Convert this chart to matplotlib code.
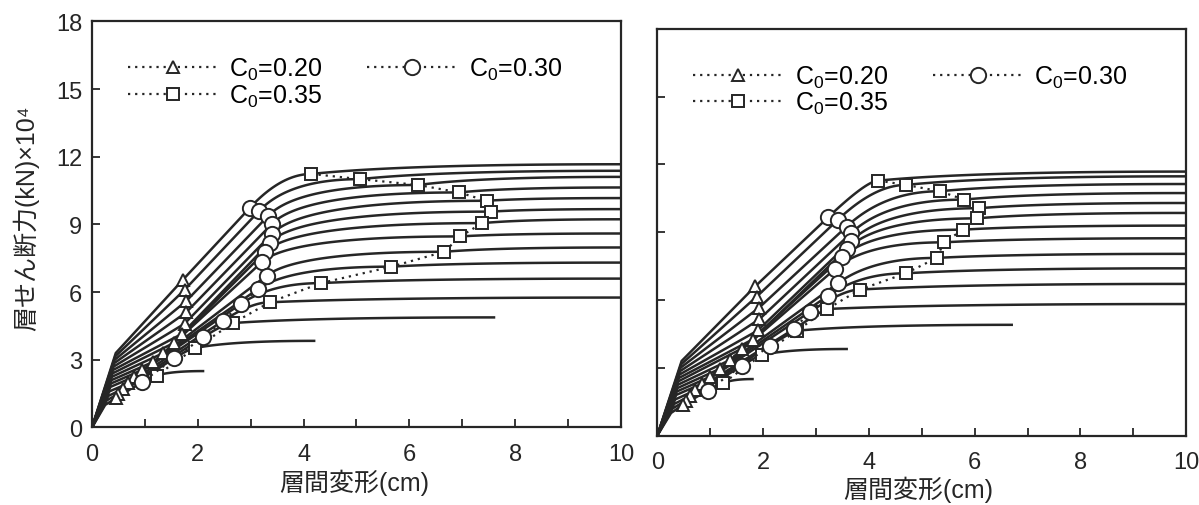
import numpy as np
import matplotlib
matplotlib.use('Agg')
import matplotlib.pyplot as plt

plt.rcParams['font.family'] = ['Liberation Sans', 'Noto Sans CJK JP', 'DejaVu Sans']
plt.rcParams['mathtext.fontset'] = 'custom'
plt.rcParams['mathtext.rm'] = 'Liberation Sans'
plt.rcParams['mathtext.it'] = 'Liberation Sans:italic'
plt.rcParams['mathtext.bf'] = 'Liberation Sans:bold'

# ---------------- data (stories ordered from largest to smallest shear) ----------------
# Left panel
L_plateau = [11.67, 11.38, 11.11, 10.64, 10.17, 9.68, 9.23, 8.60, 7.98, 7.31, 6.60, 5.76, 4.88, 3.84, 2.50]
L_end_x = [10, 10, 10, 10, 10, 10, 10, 10, 10, 10, 10, 10, 7.6, 4.2, 2.1]
L_elastic_x = [0.45, 0.44, 0.43, 0.42, 0.41, 0.40, 0.39, 0.38, 0.37, 0.36, 0.35, 0.33, 0.31, 0.28, 0.25]
L_elastic_y = [3.3, 3.15, 3.0, 2.85, 2.7, 2.55, 2.4, 2.25, 2.1, 1.95, 1.8, 1.6, 1.4, 1.2, 1.0]
L_tri_x = [1.72, 1.75, 1.78, 1.78, 1.75, 1.70, 1.55, 1.35, 1.15, 0.95, 0.80, 0.68, 0.58, 0.50, 0.45]
L_tri_y = [6.55, 6.10, 5.60, 5.10, 4.60, 4.15, 3.75, 3.30, 2.90, 2.55, 2.25, 1.95, 1.70, 1.50, 1.30]
L_cir_x = [2.99, 3.16, 3.33, 3.40, 3.40, 3.36, 3.27, 3.21, 3.30, 3.14, 2.81, 2.48, 2.10, 1.56, 0.94]
L_cir_y = [9.75, 9.60, 9.38, 9.02, 8.58, 8.20, 7.78, 7.33, 6.73, 6.14, 5.47, 4.73, 4.00, 3.07, 2.00]
L_sq_x = [4.15, 5.07, 6.17, 6.94, 7.46, 7.55, 7.38, 6.96, 6.66, 5.66, 4.33, 3.36, 2.67, 1.95, 1.22]
L_sq_y = [11.24, 11.01, 10.75, 10.42, 10.05, 9.57, 9.06, 8.47, 7.79, 7.13, 6.40, 5.55, 4.63, 3.52, 2.30]

# Right panel
R_plateau = [11.68, 11.47, 11.13, 10.73, 10.29, 9.85, 9.29, 8.73, 8.04, 7.40, 6.71, 5.82, 4.90, 3.83, 2.50]
R_end_x = [10, 10, 10, 10, 10, 10, 10, 10, 10, 10, 10, 10, 6.7, 3.58, 1.8]
R_elastic_x = [0.46, 0.45, 0.44, 0.43, 0.42, 0.41, 0.40, 0.39, 0.38, 0.37, 0.36, 0.34, 0.32, 0.29, 0.26]
R_elastic_y = [3.3, 3.15, 3.0, 2.85, 2.7, 2.55, 2.4, 2.25, 2.1, 1.95, 1.8, 1.6, 1.4, 1.2, 1.0]
R_tri_x = [1.85, 1.88, 1.92, 1.93, 1.90, 1.80, 1.60, 1.38, 1.18, 1.00, 0.85, 0.72, 0.62, 0.54, 0.48]
R_tri_y = [6.60, 6.15, 5.65, 5.15, 4.65, 4.25, 3.85, 3.35, 2.95, 2.60, 2.30, 2.00, 1.75, 1.55, 1.35]
R_cir_x = [3.23, 3.41, 3.58, 3.66, 3.67, 3.58, 3.49, 3.36, 3.42, 3.23, 2.89, 2.58, 2.13, 1.60, 0.95]
R_cir_y = [9.66, 9.54, 9.25, 8.95, 8.62, 8.25, 7.89, 7.37, 6.75, 6.19, 5.48, 4.71, 3.98, 3.09, 1.99]
R_sq_x = [4.18, 4.70, 5.34, 5.80, 6.09, 6.04, 5.78, 5.42, 5.28, 4.70, 3.83, 3.21, 2.64, 1.97, 1.24]
R_sq_y = [11.28, 11.09, 10.81, 10.44, 10.06, 9.61, 9.11, 8.55, 7.86, 7.18, 6.46, 5.60, 4.64, 3.56, 2.31]

x_ticks = [0, 2, 4, 6, 8, 10]
y_ticks = [0, 3, 6, 9, 12, 15, 18]
labels = ['C$_0$=0.20', 'C$_0$=0.30', 'C$_0$=0.35']
xlabel = '層間変形(cm)'
ylabel = '層せん断力(kN)×10⁴'

INK = '#262626'


def bezier(p0, p1, p2, n=50):
    t = np.linspace(0, 1, n)
    x = (1 - t) ** 2 * p0[0] + 2 * (1 - t) * t * p1[0] + t ** 2 * p2[0]
    y = (1 - t) ** 2 * p0[1] + 2 * (1 - t) * t * p1[1] + t ** 2 * p2[1]
    return x, y


def story_curve(ex, ey, tx, ty, cx, cy, sx, sy, xe, ye):
    slope = (cy - ty) / (cx - tx) if cx > tx else 3.0
    kx = cx + (sy - cy) / slope
    kx = max(cx, min(kx, sx - 0.05))
    bx, by = bezier((cx, cy), (kx, sy), (sx, sy))
    qx, qy = bezier((sx, sy), (sx + 0.3 * (xe - sx), ye), (xe, ye))
    xs = np.concatenate([[0, ex, tx], bx, qx[1:]])
    ys = np.concatenate([[0, ey, ty], by, qy[1:]])
    return xs, ys


def draw_panel(ax, plateau, end_x, ex, ey, trx, try_, cx, cy, sx, sy):
    for i in range(len(plateau)):
        xs, ys = story_curve(ex[i], ey[i], trx[i], try_[i], cx[i], cy[i],
                             sx[i], sy[i], end_x[i], plateau[i])
        ax.plot(xs, ys, color=INK, lw=1.8, zorder=2, solid_joinstyle='round')
    dot = (0, (1, 2.2))
    ax.plot(trx, try_, ls=dot, lw=1.6, color=INK, marker='^', ms=9,
            mfc='white', mec=INK, mew=1.4, zorder=4, label=labels[0])
    ax.plot(sx, sy, ls=dot, lw=1.6, color=INK, marker='s', ms=8,
            mfc='white', mec=INK, mew=1.4, zorder=4, label=labels[2])
    ax.plot(cx, cy, ls=dot, lw=1.6, color=INK, marker='o', ms=11,
            mfc='white', mec=INK, mew=1.4, zorder=5, label=labels[1])

    h, l = ax.get_legend_handles_labels()
    ax.legend(h, l, ncol=2, loc='upper left', bbox_to_anchor=(0.068, 0.915),
              frameon=False, fontsize=18, handlelength=3.6,
              handletextpad=0.45, columnspacing=1.8, labelspacing=0.02,
              borderpad=0, borderaxespad=0, numpoints=1)

    ax.set_xlim(0, 10)
    ax.set_ylim(0, 18)
    ax.set_xticks(x_ticks)
    ax.set_xticks([1, 3, 5, 7, 9], minor=True)
    ax.set_yticks(y_ticks)
    ax.tick_params(which='both', direction='in', length=6, width=1.3,
                   labelsize=17, color=INK, labelcolor=INK, pad=7)
    ax.tick_params(axis='x', which='both', pad=11)
    for s in ax.spines.values():
        s.set_linewidth(1.6)
        s.set_color(INK)


fig = plt.figure(figsize=(11.99, 5.06), dpi=100)
axL = fig.add_axes([0.0767, 0.1532, 0.4412, 0.8024])
axR = fig.add_axes([0.5482, 0.1372, 0.4412, 0.8040])

draw_panel(axL, L_plateau, L_end_x, L_elastic_x, L_elastic_y, L_tri_x, L_tri_y,
           L_cir_x, L_cir_y, L_sq_x, L_sq_y)
draw_panel(axR, R_plateau, R_end_x, R_elastic_x, R_elastic_y, R_tri_x, R_tri_y,
           R_cir_x, R_cir_y, R_sq_x, R_sq_y)
axR.set_yticklabels([])

fig.text(354 / 1199, 1 - 483 / 506, xlabel, ha='center', va='center', fontsize=18, color=INK)
fig.text(918 / 1199, 1 - 490 / 506, xlabel, ha='center', va='center', fontsize=18, color=INK)
fig.text(26 / 1199, 1 - 218 / 506, ylabel, ha='center', va='center', rotation=90,
         fontsize=18, color=INK)

fig.savefig('out.png', dpi=100, facecolor='white')
